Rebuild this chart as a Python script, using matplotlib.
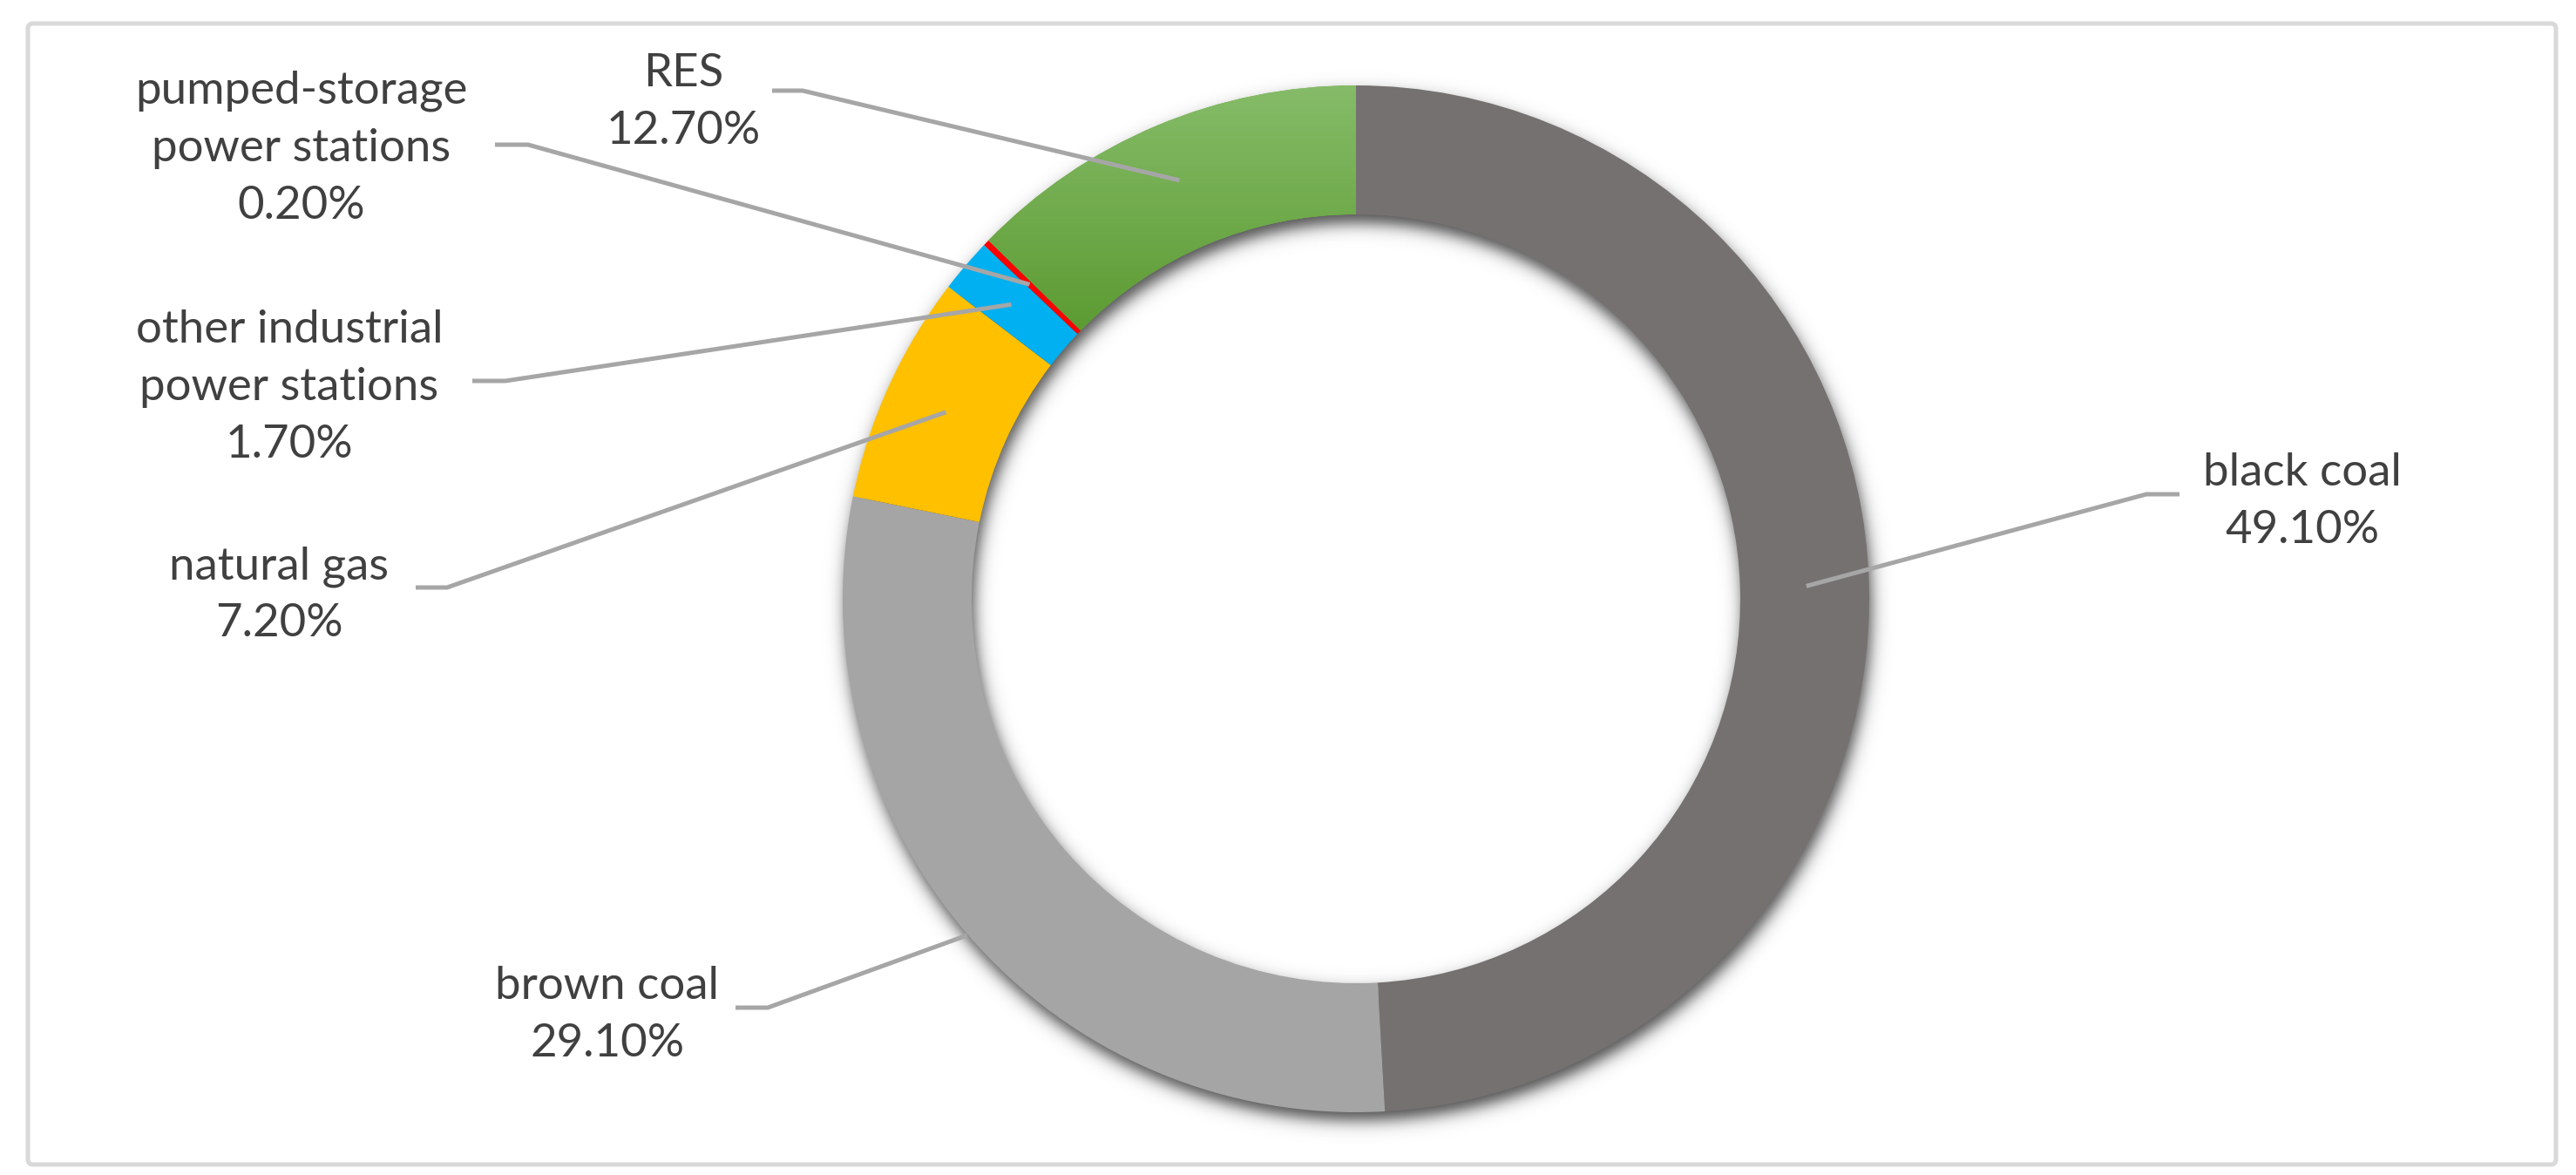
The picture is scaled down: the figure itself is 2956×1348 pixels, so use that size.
import numpy as np
import matplotlib
matplotlib.use("Agg")
import matplotlib.pyplot as plt
from matplotlib.patches import FancyBboxPatch
from matplotlib.colors import to_rgb

# ---------------- data ----------------
categories = ["black coal", "brown coal", "natural gas",
              "other industrial\npower stations",
              "pumped-storage\npower stations", "RES"]
values = [49.1, 29.1, 7.2, 1.7, 0.2, 12.7]
value_labels = ["49.10%", "29.10%", "7.20%", "1.70%", "0.20%", "12.70%"]
colors = ["#767171", "#A5A5A5", "#FFC000", "#00B0F0", "#FF0000", "#70AD47"]

# ---------------- layout (pixels, y measured from top) ----------------
W, H = 2956, 1348
CX, CY = 1556, 687
R_OUT, R_IN = 589, 441

# label: (x centre, first baseline y), line spacing
label_pos = [(2642, 557), (697, 1146), (320, 664), (332, 393), (346, 119), (784, 99)]
LINE_SP = 66
# leader: (x text side, y, x elbow), anchor radius
leader_h = [(2501, 567, 2463), (844, 1156, 881), (477, 674, 513),
            (542, 437, 580), (568, 166, 606), (886, 104, 921)]
anchor_r = [517, 590, 517, 520, 520, 521]

TEXT_C = "#404040"
LEAD_C = "#A6A6A6"
FONT = ["Lato", "DejaVu Sans"]
FS = 38


def Y(y):
    return H - y


fig = plt.figure(figsize=(W / 100, H / 100), dpi=100)
fig.patch.set_facecolor("white")
ax = fig.add_axes([0, 0, 1, 1])

# ---- soft shadow of the ring ----
half = 700
xs = np.arange(CX - half, CX + half, 1.0)
ys = np.arange(Y(CY) - half, Y(CY) + half, 1.0)
XX, YY = np.meshgrid(xs, ys)
sx, sy = CX + 3, Y(CY) - 10
rr = np.hypot(XX - sx, YY - sy)
s = 11.0
a = 0.5 * (1 + np.tanh((R_OUT - rr) / s)) * 0.5 * (1 + np.tanh((rr - R_IN) / s))
img = np.zeros(XX.shape + (4,))
img[..., 3] = 0.7 * a
ax.imshow(img, extent=(xs[0], xs[-1], ys[0], ys[-1]), origin="lower",
          interpolation="bilinear", zorder=1)

# ---- donut ----
wedges, _ = ax.pie(values, colors=colors, startangle=90, counterclock=False,
                   radius=R_OUT, center=(CX, Y(CY)),
                   wedgeprops=dict(width=R_OUT - R_IN, linewidth=0))
for w in wedges:
    w.set_zorder(2)

# gradient on RES wedge
res = wedges[-1]
ext = res.get_path().get_extents()
top = np.array(to_rgb("#86BC69"))
bot = np.array(to_rgb("#5C9B32"))
t = np.linspace(0, 1, 256)[:, None]
grad = (bot[None, :] * (1 - t) + top[None, :] * t)[:, None, :]
gi = ax.imshow(grad, extent=(ext.x0, ext.x1, ext.y0, ext.y1), origin="lower",
               aspect="auto", interpolation="bilinear", zorder=2.5)
gi.set_clip_path(res)

# ---- labels and leader lines ----
for i, w in enumerate(wedges):
    mid = np.deg2rad((w.theta1 + w.theta2) / 2)
    axx = CX + anchor_r[i] * np.cos(mid)
    ayy = Y(CY) + anchor_r[i] * np.sin(mid)
    x0, yl, xe = leader_h[i]
    ax.plot([x0, xe, axx], [Y(yl), Y(yl), ayy], color=LEAD_C, lw=3.6,
            solid_capstyle="butt", solid_joinstyle="miter", zorder=4)
    lines = categories[i].split("\n") + [value_labels[i]]
    lx, ly = label_pos[i]
    for k, ln in enumerate(lines):
        ax.text(lx, Y(ly + k * LINE_SP), ln, ha="center", va="baseline",
                fontsize=FS, color=TEXT_C, family=FONT, zorder=5)

# ---- frame ----
frame = FancyBboxPatch((32, Y(1336)), 2933 - 32, 1336 - 27,
                       boxstyle="round,pad=0,rounding_size=6",
                       fc="none", ec="#D9D9D9", lw=3.6, zorder=6)
ax.add_patch(frame)

ax.set_xlim(0, W)
ax.set_ylim(0, H)
ax.set_aspect("auto")
ax.axis("off")

fig.savefig("out.png", dpi=100, facecolor="white")
